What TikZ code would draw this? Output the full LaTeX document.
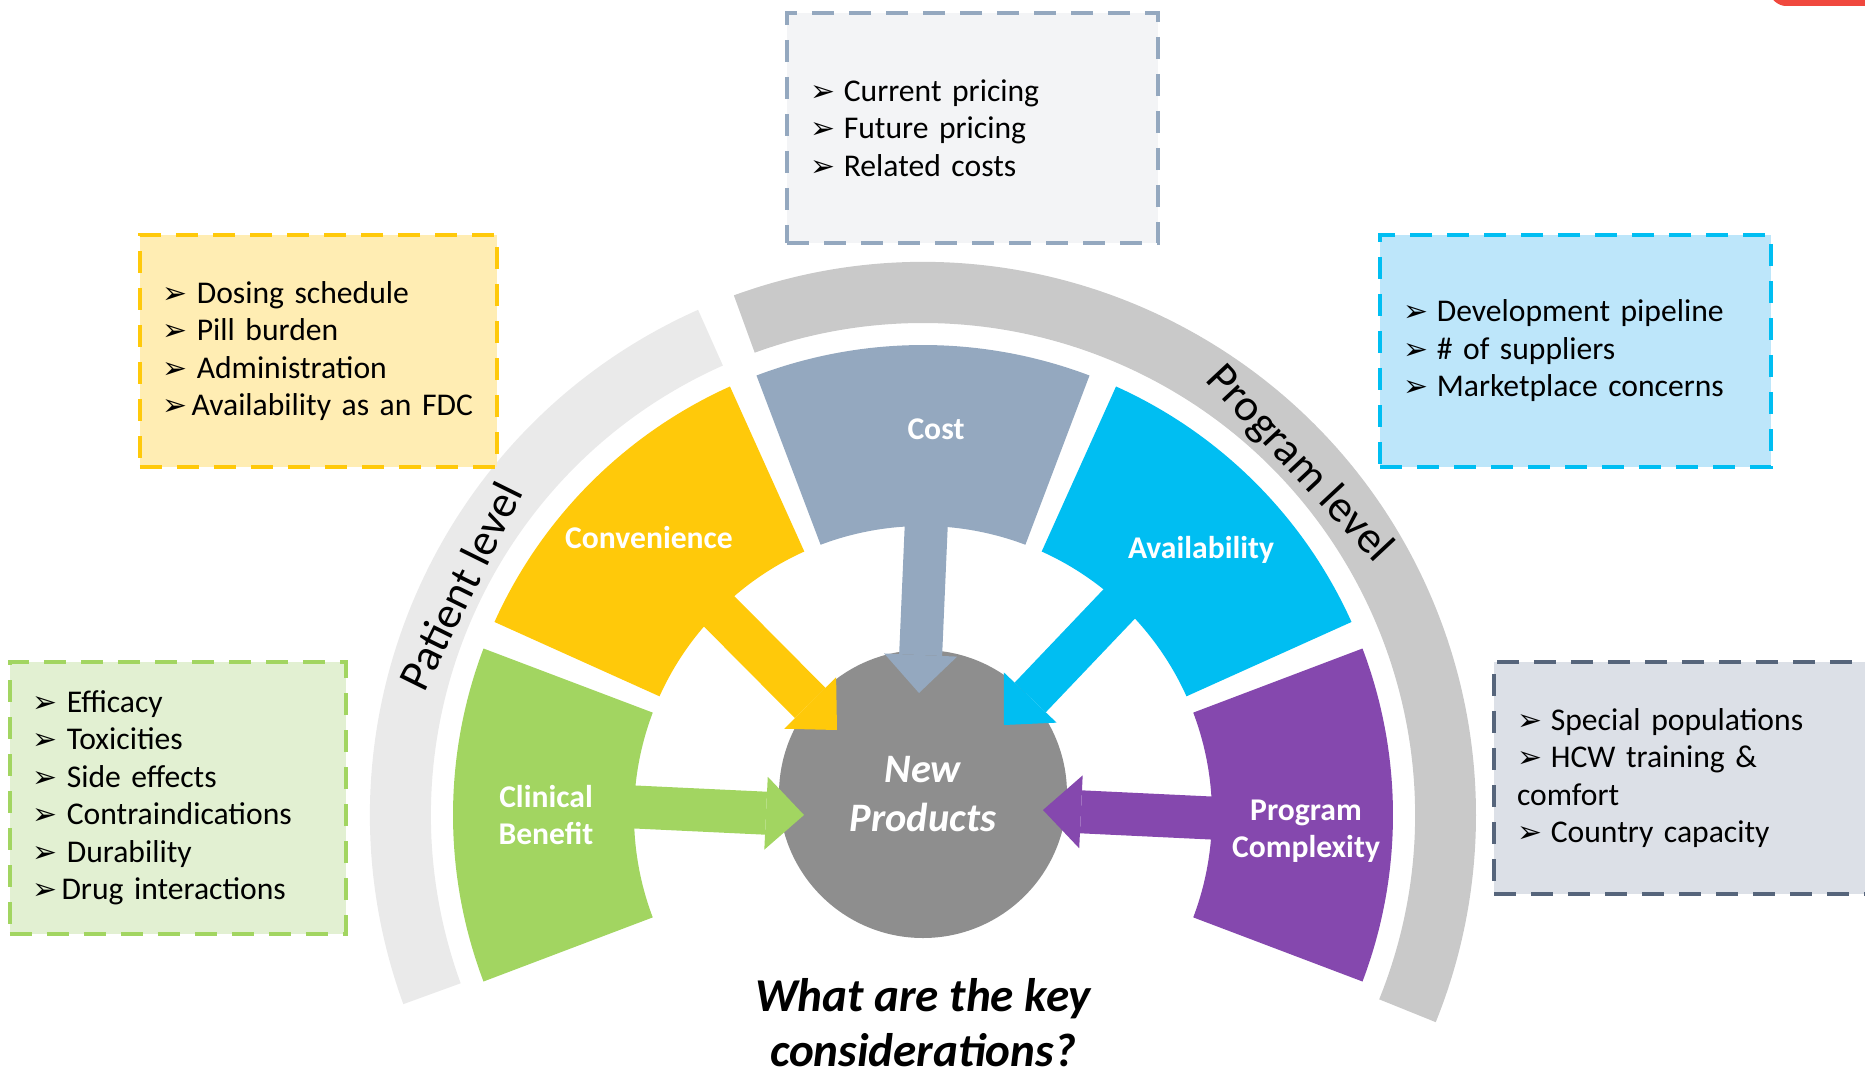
\documentclass[tikz,border=0pt]{standalone}
\usepackage{fontspec}
\setmainfont{Carlito}
\newfontfamily\dingfont{DejaVu Sans}
\usetikzlibrary{arrows.meta}
\definecolor{clingreen}{HTML}{A2D561}
\definecolor{convgold}{HTML}{FFC90A}
\definecolor{costblue}{HTML}{94A8BF}
\definecolor{availblue}{HTML}{00BEF2}
\definecolor{progpurple}{HTML}{8548AE}
\definecolor{hubgray}{HTML}{8E8E8E}
\definecolor{bandlight}{HTML}{EAEAEA}
\definecolor{banddark}{HTML}{C9C9C9}
\definecolor{noteyellow}{HTML}{FFEDB3}
\definecolor{notegreen}{HTML}{E2F0D2}
\definecolor{noteblue}{HTML}{BDE6FA}
\definecolor{notegray}{HTML}{F3F4F6}
\definecolor{noteslate}{HTML}{DCE0E7}
\definecolor{slateline}{HTML}{56657B}
\definecolor{flagred}{HTML}{F0483E}
\newcommand{\bul}{{\dingfont\fontsize{8.5}{8.5}\selectfont\char"27A2}}
\newcommand{\itm}{\bul\hspace{2.5pt}}

\begin{document}
\begin{tikzpicture}[
  seglab/.style={text=white, font=\bfseries\fontsize{9}{10.5}\selectfont, align=center},
  lvl/.style={font=\fontsize{12.8}{15}\selectfont},
  hub/.style={circle, fill=hubgray, minimum size=2.88cm, inner sep=0pt, text=white, align=center,
    font=\bfseries\itshape\fontsize{11.5}{14.2}\selectfont},
  blk/.style={draw=#1, line width=4.3mm, -{Triangle[length=3.8mm, width=7.3mm, line width=0pt]}},
  note/.style 2 args={draw=#1, fill=#2, line width=1.3pt, dash pattern=on 2.2mm off 1.5mm,
    align=left, inner xsep=2.3mm, font=\fontsize{9}{10.67}\selectfont}
]
\useasboundingbox (-9.23,-2.58) rectangle (9.42,8.15);

% level bands
\fill[bandlight] (114:4.92) arc[start angle=114, end angle=200, radius=4.92]
  -- (200:5.53) arc[start angle=200, end angle=114, radius=5.53] -- cycle;
\fill[banddark] (-22:4.92) arc[start angle=-22, end angle=110, radius=4.92]
  -- (110:5.53) arc[start angle=110, end angle=-22, radius=5.53] -- cycle;
\node[lvl, rotate=63.7] (patient) at (153.7:5.16) {Patient level};
\node[lvl, rotate=-47] (program) at (43:5.14) {Program level};

% wheel segments
\foreach \c/\col in {180/clingreen,135/convgold,90/costblue,45/availblue,0/progpurple}
  \fill[\col] (\c-20.75:2.89) arc[start angle=\c-20.75, end angle=\c+20.75, radius=2.89]
    -- (\c+20.75:4.70) arc[start angle=\c+20.75, end angle=\c-20.75, radius=4.70] -- cycle;

\node[hub] (hub) at (0,0.21) {New\\Products};

% block arrows into the hub
\coordinate (clinT) at (-3.3,0.10);  \coordinate (clinH) at (-1.19,0);
\coordinate (convT) at (135:3.3);    \coordinate (convH) at (-0.86,0.85);
\coordinate (costT) at (0.05,3.3);   \coordinate (costH) at (-0.04,1.22);
\coordinate (availT) at (47:3.3);    \coordinate (availH) at (0.81,0.90);
\coordinate (progT) at (3.3,-0.05);  \coordinate (progH) at (1.20,0.05);
\draw[blk=clingreen] (clinT) -- (clinH);
\draw[blk=convgold] (convT) -- (convH);
\draw[blk=costblue] (costT) -- (costH);
\draw[blk=availblue] (availT) -- (availH);
\draw[blk=progpurple] (progT) -- (progH);

\node[seglab] (clin) at (-3.77,0.0) {Clinical\\Benefit};
\node[seglab] (conv) at (-2.74,2.77) {Convenience};
\node[seglab] (cost) at (0.13,3.86) {Cost};
\node[seglab] (avail) at (2.78,2.65) {Availability};
\node[seglab] (prog) at (3.83,-0.16) {Program\\Complexity};

\node[font=\bfseries\itshape\fontsize{13.4}{15.6}\selectfont, align=center, inner sep=0pt] (ask)
  at (0,-2.08) {What are the key\\considerations?};

% note boxes
\node[note={costblue}{notegray}, minimum width=3.71cm, minimum height=2.30cm, text width=3.25cm]
  (pricing) at (0.495,6.87) {\itm Current pricing\\ \itm Future pricing\\ \itm Related costs};
\node[note={convgold}{noteyellow}, minimum width=3.57cm, minimum height=2.32cm, text width=3.11cm]
  (dosing) at (-6.045,4.64) {\itm Dosing schedule\\ \itm Pill burden\\ \itm Administration\\ \bul\hspace{1pt}Availability as an FDC};
\node[note={clingreen}{notegreen}, minimum width=3.36cm, minimum height=2.72cm, text width=2.90cm]
  (efficacy) at (-7.45,0.17) {\itm Efficacy\\ \itm Toxicities\\ \itm Side effects\\ \itm Contraindications\\ \itm Durability\\ \bul\hspace{1pt}Drug interactions};
\node[note={availblue}{noteblue}, minimum width=3.91cm, minimum height=2.32cm, text width=3.45cm]
  (supply) at (6.525,4.64) {\itm Development pipeline\\ \itm \# of suppliers\\ \itm Marketplace concerns};
\node[note={slateline}{noteslate}, minimum width=3.96cm, minimum height=2.32cm, text width=3.50cm]
  (capacity) at (7.69,0.37) {\itm Special populations\\ \itm HCW training \&\\ comfort\\ \itm Country capacity};

\fill[flagred, rounded corners=4pt] (8.49,8.09) -- (9.7,8.09) -- (9.7,8.5) -- (8.42,8.5) -- cycle;
\end{tikzpicture}
\end{document}
